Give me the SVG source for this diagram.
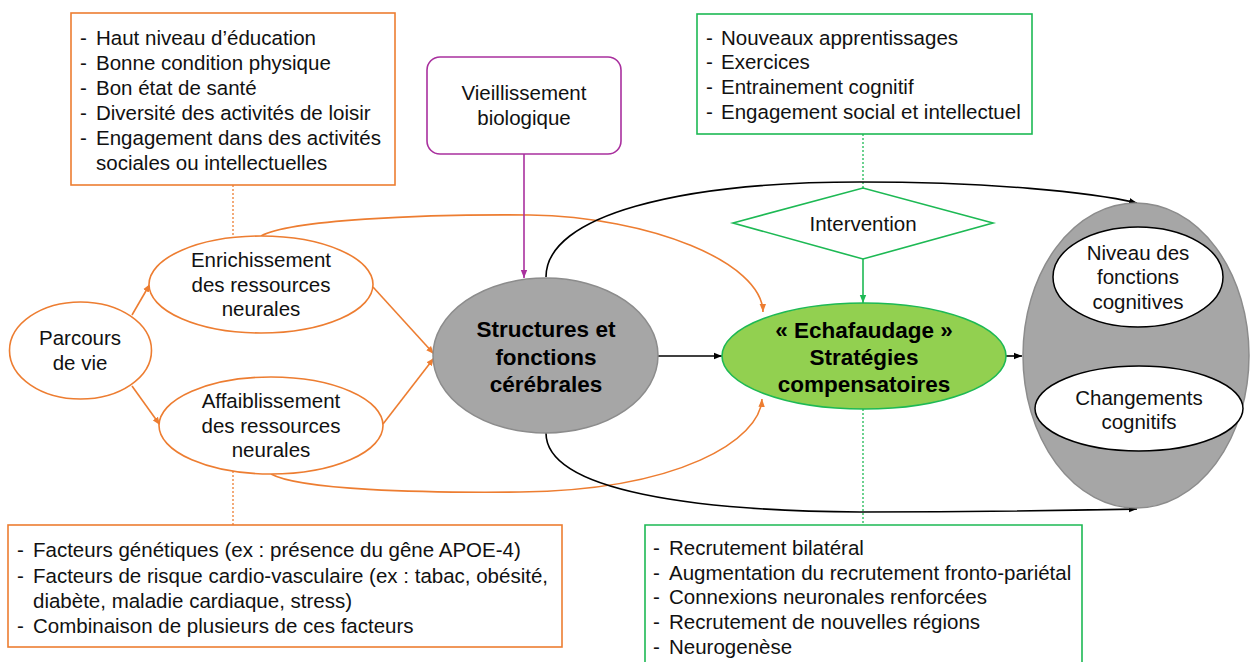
<svg xmlns="http://www.w3.org/2000/svg" width="1250" height="662" viewBox="0 0 1250 662">
<style>
text{font-family:"Liberation Sans",Arial,sans-serif;font-size:20.5px;fill:#111}
.c{text-anchor:middle}
.b{font-weight:bold;font-size:22.5px;fill:#000}
.or{fill:#fff;stroke:#ED7D31;stroke-width:1.6}
.gr{fill:#fff;stroke:#1DB954;stroke-width:1.6}
.ol{fill:none;stroke:#ED7D31;stroke-width:1.6}
.bl{fill:none;stroke:#000;stroke-width:1.6}
.gl{fill:none;stroke:#1DB954;stroke-width:1.6}
.od{fill:none;stroke:#ED7D31;stroke-width:1.3;stroke-dasharray:2 2}
.gd{fill:none;stroke:#1DB954;stroke-width:1.3;stroke-dasharray:2 2}
</style>
<defs>
<marker id="aO" viewBox="0 0 10 10" refX="10" refY="5" markerWidth="8" markerHeight="8" markerUnits="userSpaceOnUse" orient="auto"><path d="M0,1 L10,5 L0,9 z" fill="#ED7D31"/></marker>
<marker id="aK" viewBox="0 0 10 10" refX="10" refY="5" markerWidth="8" markerHeight="8" markerUnits="userSpaceOnUse" orient="auto"><path d="M0,1 L10,5 L0,9 z" fill="#000"/></marker>
<marker id="aG" viewBox="0 0 10 10" refX="10" refY="5" markerWidth="8" markerHeight="8" markerUnits="userSpaceOnUse" orient="auto"><path d="M0,1 L10,5 L0,9 z" fill="#1DB954"/></marker>
<marker id="aP" viewBox="0 0 10 10" refX="10" refY="5" markerWidth="8" markerHeight="8" markerUnits="userSpaceOnUse" orient="auto"><path d="M0,1 L10,5 L0,9 z" fill="#A9309E"/></marker>
</defs>

<g id="connectors">
<path class="od" d="M233,185 L233,237"/>
<path class="od" d="M233,471 L233,525"/>
<path class="gd" d="M863,134 L863,188"/>
<path class="gd" d="M863,409 L863,525"/>
<path class="ol" d="M132,315 L150,284" marker-end="url(#aO)"/>
<path class="ol" d="M132,386 L160,425" marker-end="url(#aO)"/>
<path class="ol" d="M373,287 L434,354" marker-end="url(#aO)"/>
<path class="ol" d="M383,424 L434,358" marker-end="url(#aO)"/>
<path class="ol" d="M261,236 C290,220 420,214 530,215 C650,217 762,262 763,312" marker-end="url(#aO)"/>
<path class="ol" d="M271,474 C300,490 420,493 520,492 C680,490 760,440 762,399" marker-end="url(#aO)"/>
<path d="M524,154 L524,278" fill="none" stroke="#A9309E" stroke-width="1.6" marker-end="url(#aP)"/>
<path class="bl" d="M546,277 C546,215 680,182 860,182 C990,182 1090,192 1137,203" marker-end="url(#aK)"/>
<path class="bl" d="M546,433 C546,492 700,511 860,512 C1000,512 1090,510 1137,509" marker-end="url(#aK)"/>
<path class="bl" d="M658,356 L722,356" marker-end="url(#aK)"/>
<path class="bl" d="M1006,356 L1022,356" marker-end="url(#aK)"/>
<path class="gl" d="M863,259 L863,303" marker-end="url(#aG)"/>
<path class="bl" d="M1138,366 L1138,327" marker-end="url(#aK)"/>
</g>

<g id="box-protecteurs">
<rect class="or" x="71" y="13" width="324" height="172"/>
<text x="80" y="45">-<tspan x="96">Haut niveau d’éducation</tspan></text>
<text x="80" y="70">-<tspan x="96">Bonne condition physique</tspan></text>
<text x="80" y="95">-<tspan x="96">Bon état de santé</tspan></text>
<text x="80" y="120">-<tspan x="96">Diversité des activités de loisir</tspan></text>
<text x="80" y="145">-<tspan x="96">Engagement dans des activités</tspan></text>
<text x="96" y="170">sociales ou intellectuelles</text>
</g>

<g id="box-risques">
<rect class="or" x="8" y="525" width="554" height="122"/>
<text x="17" y="557">-<tspan x="33">Facteurs génétiques (ex : présence du gêne APOE-4)</tspan></text>
<text x="17" y="583">-<tspan x="33">Facteurs de risque cardio-vasculaire (ex : tabac, obésité,</tspan></text>
<text x="33" y="608">diabète, maladie cardiaque, stress)</text>
<text x="17" y="633">-<tspan x="33">Combinaison de plusieurs de ces facteurs</tspan></text>
</g>

<g id="box-vieillissement">
<rect x="427" y="57" width="194" height="97" rx="13" fill="#fff" stroke="#A9309E" stroke-width="1.6"/>
<text class="c" x="524" y="100">Vieillissement</text>
<text class="c" x="524" y="125">biologique</text>
</g>

<g id="box-activites">
<rect class="gr" x="697" y="14" width="335" height="120"/>
<text x="706" y="45">-<tspan x="721">Nouveaux apprentissages</tspan></text>
<text x="706" y="69">-<tspan x="721">Exercices</tspan></text>
<text x="706" y="94">-<tspan x="721">Entrainement cognitif</tspan></text>
<text x="706" y="119">-<tspan x="721">Engagement social et intellectuel</tspan></text>
</g>

<g id="box-mecanismes">
<path class="gr" d="M645,662 L645,525 L1082,525 L1082,662"/>
<text x="653" y="555">-<tspan x="669">Recrutement bilatéral</tspan></text>
<text x="653" y="580">-<tspan x="669">Augmentation du recrutement fronto-pariétal</tspan></text>
<text x="653" y="604">-<tspan x="669">Connexions neuronales renforcées</tspan></text>
<text x="653" y="629">-<tspan x="669">Recrutement de nouvelles régions</tspan></text>
<text x="653" y="654">-<tspan x="669">Neurogenèse</tspan></text>
</g>

<g id="parcours">
<ellipse class="or" cx="80.5" cy="350.5" rx="71" ry="48.5"/>
<text class="c" x="80" y="345">Parcours</text>
<text class="c" x="80" y="370">de vie</text>
</g>

<g id="enrichissement">
<ellipse class="or" cx="261" cy="284.5" rx="112" ry="48.5"/>
<text class="c" x="261" y="267">Enrichissement</text>
<text class="c" x="261" y="292">des ressources</text>
<text class="c" x="261" y="316">neurales</text>
</g>

<g id="affaiblissement">
<ellipse class="or" cx="271" cy="425.5" rx="112" ry="48.5"/>
<text class="c" x="271" y="408">Affaiblissement</text>
<text class="c" x="271" y="433">des ressources</text>
<text class="c" x="271" y="457">neurales</text>
</g>

<g id="structures">
<ellipse cx="545.5" cy="355.5" rx="112.5" ry="77.5" fill="#A6A6A6" stroke="#8C8C8C" stroke-width="1.5"/>
<text class="c b" x="546" y="337">Structures et</text>
<text class="c b" x="546" y="365">fonctions</text>
<text class="c b" x="546" y="392">cérébrales</text>
</g>

<g id="intervention">
<polygon points="733,223 863,188 993,223 863,259" fill="#fff" stroke="#1DB954" stroke-width="1.6"/>
<text class="c" x="863" y="231">Intervention</text>
</g>

<g id="echafaudage">
<ellipse cx="864" cy="356" rx="142" ry="53" fill="#92D050" stroke="#1DB954" stroke-width="1.6"/>
<text class="c b" x="864" y="338">« Echafaudage »</text>
<text class="c b" x="864" y="365">Stratégies</text>
<text class="c b" x="864" y="392">compensatoires</text>
</g>

<g id="cognition">
<ellipse cx="1136" cy="355.5" rx="113" ry="152.5" fill="#A6A6A6" stroke="#8C8C8C" stroke-width="1.5"/>
</g>

<g id="niveau">
<ellipse cx="1138" cy="277" rx="85" ry="50" fill="#fff" stroke="#000" stroke-width="1.5"/>
<text class="c" x="1138" y="260">Niveau des</text>
<text class="c" x="1138" y="284">fonctions</text>
<text class="c" x="1138" y="309">cognitives</text>
</g>

<g id="changements">
<ellipse cx="1139" cy="408.5" rx="104" ry="42.5" fill="#fff" stroke="#000" stroke-width="1.5"/>
<text class="c" x="1139" y="405">Changements</text>
<text class="c" x="1139" y="429">cognitifs</text>
</g>
</svg>
